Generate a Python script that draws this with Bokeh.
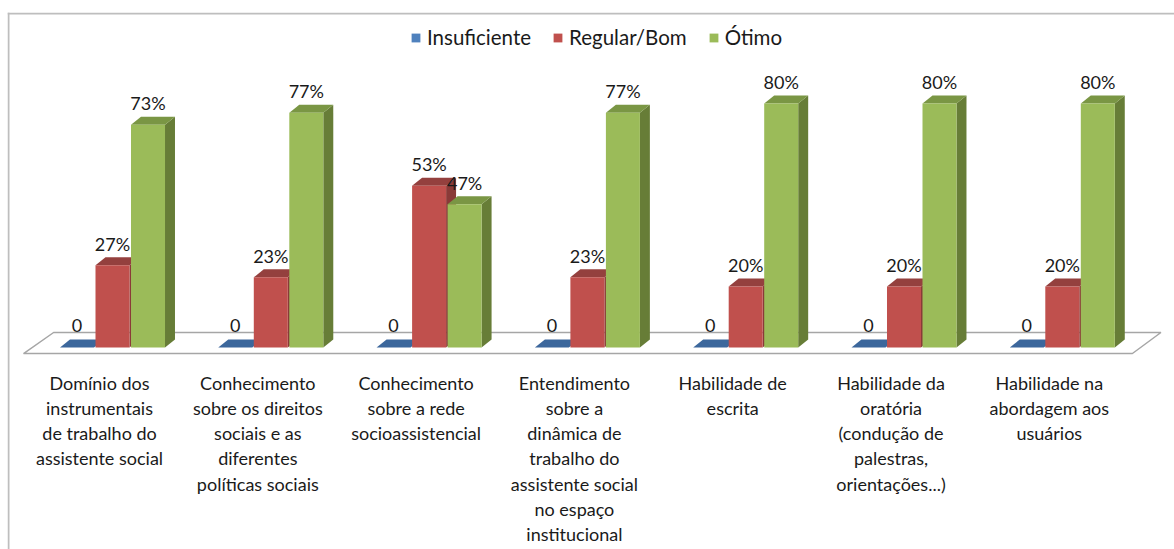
from bokeh.plotting import figure
from bokeh.models import Range1d, ColumnDataSource, Legend, LegendItem, Span
from bokeh.core.properties import value
from bokeh.embed import file_html
from bokeh.resources import INLINE

categories = [
    "Domínio dos\ninstrumentais\nde trabalho do\nassistente social",
    "Conhecimento\nsobre os direitos\nsociais e as\ndiferentes\npolíticas sociais",
    "Conhecimento\nsobre a rede\nsocioassistencial",
    "Entendimento\nsobre a\ndinâmica de\ntrabalho do\nassistente social\nno espaço\ninstitucional",
    "Habilidade de\nescrita",
    "Habilidade da\noratória\n(condução de\npalestras,\norientações...)",
    "Habilidade na\nabordagem aos\nusuários",
]
series_names = ["Insuficiente", "Regular/Bom", "Ótimo"]
insuficiente = [0, 0, 0, 0, 0, 0, 0]
regular_bom = [27, 23, 53, 23, 20, 20, 20]
otimo = [73, 77, 47, 77, 80, 80, 80]

front_colors = ["#4F81BD", "#C0504D", "#9BBB59"]
top_colors = ["#3C679C", "#94403E", "#7A9644"]
side_colors = ["#385F8F", "#8A3A38", "#677D37"]

FONT = "Lato"
n = len(categories)
bar_w = 0.2148
offsets = [-0.2243, 0.0, 0.2243]
dx = 0.063
dy = 2.62

p = figure(width=1174, height=549, output_backend="svg", toolbar_location=None,
           x_range=Range1d(-0.6633, 6.7088), y_range=Range1d(-66.23, 109.84),
           min_border_left=7, min_border_right=0, min_border_top=12, min_border_bottom=0)
p.axis.visible = False
p.grid.visible = False
p.outline_line_color = None
p.background_fill_color = "white"
p.border_fill_color = "white"

# chart frame (top and left edges visible)
p.add_layout(Span(location=109.51, dimension="width", line_color="#BEBEBE", line_width=2))
p.add_layout(Span(location=-0.657, dimension="height", line_color="#BEBEBE", line_width=2))

# floor
fx0 = -0.562
fx1 = (n - 1) + 0.443
p.patch([fx0, fx0 + 0.19, fx1 + 0.18, fx1], [-1.97, 4.92, 4.92, -1.97],
        fill_color="white", line_color="#A6A6A6", line_width=1.5)

legend_items = []
all_vals = [insuficiente, regular_bom, otimo]
for s, vals in enumerate(all_vals):
    L = [i + offsets[s] - bar_w / 2 for i in range(n)]
    R = [i + offsets[s] + bar_w / 2 for i in range(n)]
    side_xs = [[r, r, r + dx, r + dx] for r in R]
    side_ys = [[0, v, v + dy, dy] for v in vals]
    top_xs = [[l, r, r + dx, l + dx] for l, r in zip(L, R)]
    top_ys = [[v, v, v + dy, v + dy] for v in vals]
    p.patches(side_xs, side_ys, fill_color=side_colors[s], line_color=None)
    p.patches(top_xs, top_ys, fill_color=top_colors[s], line_color=None)
    src = ColumnDataSource(dict(left=L, right=R, bottom=[0] * n, top=vals))
    r = p.quad(left="left", right="right", bottom="bottom", top="top", source=src,
               fill_color=front_colors[s], line_color=None)
    legend_items.append(LegendItem(label=series_names[s], renderers=[r]))

# data labels
for s, vals in enumerate(all_vals):
    xs = [i + offsets[s] for i in range(n)]
    ys = [v + 7.1 for v in vals]
    labels = ["0" if v == 0 else f"{v}%" for v in vals]
    p.text(xs, ys, text=labels, text_font=value(FONT), text_font_size="18px",
           text_align="center", text_baseline="alphabetic", text_color="#1A1A1A")

# category labels
p.text([i - 0.082 for i in range(n)], [-7.9] * n, text=categories,
       text_font=value(FONT), text_font_size="18px", text_align="center",
       text_baseline="top", text_line_height=1.15, text_color="#1A1A1A")

legend = Legend(items=legend_items, orientation="horizontal", location=(403, 500),
                border_line_color=None, background_fill_alpha=0,
                glyph_width=11, glyph_height=11, label_height=11,
                label_text_font=FONT, label_text_font_size="20.5px",
                label_text_color="#1A1A1A", label_standoff=6, spacing=21,
                padding=0, margin=0)
p.add_layout(legend, "center")

open("out.html", "w").write(file_html(p, INLINE))
